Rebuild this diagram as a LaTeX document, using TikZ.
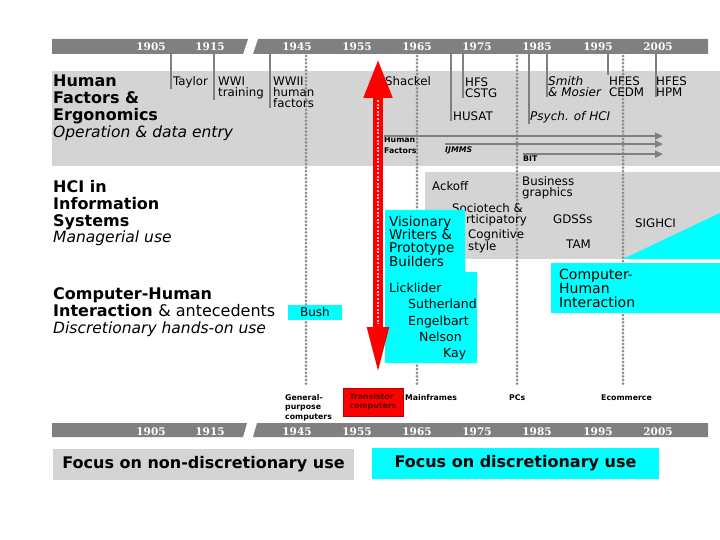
\documentclass[tikz,border=0pt]{standalone}
\usepackage{fontspec}
\usepackage{tikz}
\setmainfont{DejaVu Sans}
\newfontfamily\yearfont{DejaVu Serif}
\usetikzlibrary{arrows.meta}
\definecolor{bargray}{HTML}{808080}
\definecolor{bandgray}{HTML}{D4D4D4}
\definecolor{hcicyan}{HTML}{00FFFF}
\definecolor{eventred}{HTML}{FF0000}

\begin{document}
\begin{tikzpicture}[
    x=1pt, y=-1pt,
    yr/.style={font=\yearfont\bfseries\fontsize{10.5}{10}\selectfont, text=white, inner sep=0pt, anchor=base},
    title/.style={font=\bfseries\fontsize{16}{17}\selectfont, inner sep=0pt, anchor=base west, align=left},
    sub/.style={font=\itshape\fontsize{15.5}{17}\selectfont, inner sep=0pt, anchor=base west},
    lbl/.style={font=\fontsize{11.8}{11}\selectfont, inner sep=0pt, anchor=base west, align=left},
    lblit/.style={lbl, font=\itshape\fontsize{12}{11}\selectfont},
    pioneer/.style={font=\fontsize{12.5}{14}\selectfont, inner sep=0pt, anchor=base west},
    tiny/.style={font=\bfseries\fontsize{7.8}{9.5}\selectfont, inner sep=0pt, anchor=base west, align=left},
    tick/.style={draw=bargray, line width=2.2pt},
    era/.style={draw=bargray!90, line width=3pt, line cap=round, dash pattern=on 0pt off 3.6pt},
    flow/.style={draw=bargray, line width=2pt, -{Triangle[length=8pt,width=7pt]}},
    redarrow/.style={draw=eventred, line width=10pt, {Triangle[length=40pt,width=26pt]}-{Triangle[length=51pt,width=19pt]}},
    focus/.style={font=\bfseries\fontsize{16}{17}\selectfont, inner sep=0pt, minimum height=31pt},
]
\useasboundingbox (0,0) rectangle (720,540);

% bands
\fill[bandgray] (52,71) rectangle (720,166);
\fill[bandgray] (425,172) rectangle (720,259);

% era lines
\foreach \x in {306,417,517,623}
  \draw[era] (\x,56) -- (\x,385);

% time bars
\fill[bargray] (52,39) -- (248,39) -- (243,54) -- (52,54) -- cycle;
\fill[bargray] (258,39) -- (708,39) -- (708,54) -- (253,54) -- cycle;
\fill[bargray] (52,423) -- (247,423) -- (243,437) -- (52,437) -- cycle;
\fill[bargray] (257,423) -- (708,423) -- (708,437) -- (253,437) -- cycle;
\foreach \yr/\x in {1905/151,1915/210,1945/297,1955/357,1965/417,1975/477,1985/537,1995/598,2005/658} {
  \node[yr] (top\yr) at (\x,50.5) {\yr};
  \node[yr] (bot\yr) at (\x,435) {\yr};
}

% human factors & ergonomics (multi-line nodes sit on their last line)
\node[title] (hfe) at (53,121) {Human\\Factors \&\\Ergonomics};
\node[sub] (hfeuse) at (53,138) {Operation \& data entry};
\node[lbl] (taylor) at (173,86) {Taylor};
\node[lbl] (wwi) at (218,97) {WWI\\training};
\node[lbl] (wwii) at (273,108) {WWII\\human\\factors};
\node[lbl] (shackel) at (385,86) {Shackel};
\node[lbl] (hfs) at (465,98) {HFS\\CSTG};
\node[lbl] (husat) at (453,121) {HUSAT};
\node[lblit] (smith) at (548,97) {Smith\\\& Mosier};
\node[lbl] (cedm) at (609,97) {HFES\\CEDM};
\node[lbl] (hpm) at (656,97) {HFES\\HPM};
\node[lblit] (psych) at (530,121) {Psych. of HCI};

\coordinate (tTaylor) at (171,53);
\coordinate (tWWI) at (214,53);
\coordinate (tWWII) at (270,53);
\coordinate (tHUSAT) at (451,53);
\coordinate (tHFS) at (463,53);
\coordinate (tPsych) at (529,53);
\coordinate (tSmith) at (547,53);
\coordinate (tCEDM) at (608,53);
\coordinate (tHPM) at (656,53);
\draw[tick] (tTaylor) -- (tTaylor |- taylor.south);
\draw[tick] (tWWI) -- (tWWI |- wwi.south);
\draw[tick] (tWWII) -- (tWWII |- wwii.south);
\draw[tick] (tHUSAT) -- (tHUSAT |- husat.south);
\draw[tick] (tHFS) -- (tHFS |- hfs.south);
\draw[tick] (tPsych) -- (tPsych |- psych.south);
\draw[tick] (tSmith) -- (tSmith |- smith.south);
\draw[tick] (tCEDM) -- ([yshift=2pt]tCEDM |- cedm.north);
\draw[tick] (tHPM) -- (tHPM |- hpm.south);

\node[tiny, font=\bfseries\fontsize{7.8}{11}\selectfont] (hfjrnl) at (384,154) {Human\\Factors};
\node[tiny, font=\bfseries\itshape\fontsize{7.8}{11}\selectfont] (ijmms) at (445,153) {IJMMS};
\node[tiny] (bit) at (523,162) {BIT};
\coordinate (jrnlend) at (663,0);
\draw[flow] ([yshift=1pt]hfjrnl.north west) -- ([yshift=1pt]hfjrnl.north west -| jrnlend);
\draw[flow] ([yshift=3pt]ijmms.north west) -- ([yshift=3pt]ijmms.north west -| jrnlend);
\draw[flow] ([yshift=2pt]bit.north west) -- ([yshift=2pt]bit.north west -| jrnlend);

% hci in information systems
\node[title] (hcis) at (53,226) {HCI in\\Information\\Systems};
\node[sub] (hcisuse) at (53,242) {Managerial use};
\node[lbl] (ackoff) at (432,191) {Ackoff};
\node[lbl, font=\fontsize{11.8}{10.5}\selectfont] (bizgraph) at (522,196.5) {Business\\graphics};
\node[lbl] (sociotech) at (452,223) {Sociotech \&\\Participatory};
\node[lbl] (cogstyle) at (468,251) {Cognitive\\style};
\node[lbl] (gdss) at (553,224) {GDSSs};
\node[lbl] (tam) at (566,248) {TAM};
\node[lbl] (sighci) at (635,227) {SIGHCI};

% computer-human interaction
\node[title] (chiante) at (53,316) {Computer-Human\\Interaction {\mdseries\& antecedents}};
\node[sub] (chiuse) at (53,333) {Discretionary hands-on use};

\fill[hcicyan] (623,259) -- (720,213) -- (720,259) -- cycle;
\fill[hcicyan] (551,263) rectangle (720,313);
\node[font=\fontsize{14}{14}\selectfont, inner sep=0pt, anchor=base west, align=left] (chi) at (559,307) {Computer-\\Human\\Interaction};

\fill[hcicyan] (385,210) -- (465,210) -- (465,272) -- (477,272) -- (477,363) -- (385,363) -- cycle;
\node[font=\fontsize{13.5}{13.3}\selectfont, inner sep=0pt, anchor=base west, align=left] (visionary) at (389,266) {Visionary\\Writers \&\\Prototype\\Builders};
\node[pioneer] (licklider) at (389,292) {Licklider};
\node[pioneer] (sutherland) at (408,308) {Sutherland};
\node[pioneer] (engelbart) at (408,325) {Engelbart};
\node[pioneer] (nelson) at (419,341) {Nelson};
\node[pioneer] (kay) at (443,357) {Kay};

\node[fill=hcicyan, minimum width=54pt, minimum height=15pt, inner sep=0pt, font=\fontsize{12}{12}\selectfont] (bush) at (315,312.5) {Bush};

% hardware
\node[tiny] (general) at (285,419) {General-\\purpose\\computers};
\node[tiny, anchor=center, fill=eventred, draw=red!70!black, text=red!35!black, minimum width=60pt, minimum height=28pt] (transistor) at (373,402) {Transistor\\computers};
\node[tiny] (mainframes) at (405,400) {Mainframes};
\node[tiny] (pcs) at (509,400) {PCs};
\node[tiny] (ecommerce) at (601,400) {Ecommerce};

% shackel arrow
\coordinate (shacktop) at (378,58);
\coordinate (shackbot) at (378,378);
\draw[redarrow] (shacktop) -- (shackbot);
\draw[draw=red!25, line width=2.2pt, dash pattern=on 2pt off 1.6pt] ([yshift=-42pt]shacktop) -- ([yshift=54pt]shackbot);

% focus
\node[focus, fill=bandgray, minimum width=301pt] (nondisc) at (203.5,464) {Focus on non-discretionary use};
\node[focus, fill=hcicyan, minimum width=287pt] (disc) at (515.5,463.5) {Focus on discretionary use};
\end{tikzpicture}
\end{document}
